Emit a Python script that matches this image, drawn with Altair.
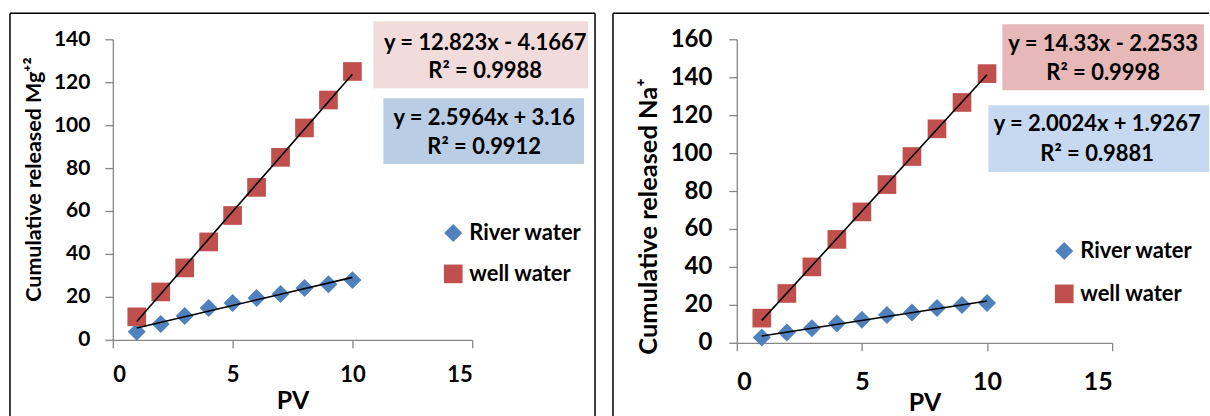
import altair as alt
import pandas as pd

# ---- data ----
pv = [1, 2, 3, 4, 5, 6, 7, 8, 9, 10]
mg_river = [3.7, 7.4, 11.1, 14.8, 17.1, 19.5, 21.3, 24.1, 25.9, 27.8]
mg_well = [10.7, 22.3, 33.5, 45.6, 57.9, 71.0, 85.0, 98.7, 111.7, 125.0]
na_river = [2.8, 5.4, 7.7, 10.2, 12.1, 14.6, 16.0, 18.3, 19.9, 21.0]
na_well = [13.0, 26.0, 40.0, 54.5, 69.0, 83.4, 98.2, 112.8, 126.7, 141.9]
series = ["River water", "well water"]
colors = ["#4F81BD", "#C0504D"]
shapes = ["diamond", "square"]
x_ticks = [0, 5, 10, 15]
mg_eq = ["y = 12.823x - 4.1667", "R² = 0.9988", "y = 2.5964x + 3.16", "R² = 0.9912"]
na_eq = ["y = 14.33x - 2.2533", "R² = 0.9998", "y = 2.0024x + 1.9267", "R² = 0.9881"]

FONT = "Lato"
AXIS_GREY = "#868686"


def make_df(river, well):
    rows = []
    for s, vals in zip(series, [river, well]):
        for x, v in zip(pv, vals):
            rows.append({"pv": x, "value": v, "series": s})
    return pd.DataFrame(rows)


def panel(river, well, ytitle, ymax, w, h, p):
    df = make_df(river, well)
    one = alt.Data(values=[{"a": 1}])
    legend = alt.Legend(
        title=None, orient="none", legendX=p["lx"], legendY=p["ly"],
        labelFont=FONT, labelFontSize=22, labelFontWeight="bold", labelColor="black",
        symbolSize=220, symbolStrokeWidth=0, labelOffset=5, rowPadding=p["rowpad"],
        padding=0, symbolType="square",
    )
    xaxis = alt.Axis(values=x_ticks, title="PV", grid=False,
                     labelFont=FONT, labelFontSize=p["xls"], labelFontWeight="bold",
                     labelColor="black", labelPadding=p["xlp"], labelOverlap=False,
                     titleFont=FONT, titleFontSize=25, titleFontWeight="bold",
                     titleColor="black", titlePadding=p["xtp"],
                     domainColor=AXIS_GREY, tickColor=AXIS_GREY,
                     domainWidth=1.3, tickWidth=1.3, tickSize=8)
    yaxis = alt.Axis(values=list(range(0, ymax + 1, 20)), title=ytitle, grid=False,
                     labelFont=FONT, labelFontSize=p["yls"], labelFontWeight="bold",
                     labelColor="black", labelPadding=p["ylp"], labelOverlap=False,
                     titleFont=FONT, titleFontSize=p["yts"], titleFontWeight="bold",
                     titleColor="black", titlePadding=p["ytp"], titleY=p["ty"],
                     domainColor=AXIS_GREY, tickColor=AXIS_GREY,
                     domainWidth=1.3, tickWidth=1.3, tickSize=8)
    xenc = alt.X("pv:Q", scale=alt.Scale(domain=[0, 15], nice=False), axis=xaxis)
    yenc = alt.Y("value:Q", scale=alt.Scale(domain=[0, ymax], nice=False), axis=yaxis)
    color = alt.Color("series:N", scale=alt.Scale(domain=series, range=colors), legend=legend)
    shape = alt.Shape("series:N", scale=alt.Scale(domain=series, range=shapes), legend=legend)
    size = alt.Size("series:N", scale=alt.Scale(domain=series, range=[324, 350]), legend=None)

    pts = alt.Chart(df).mark_point(filled=True, opacity=1).encode(
        x=xenc, y=yenc, color=color, shape=shape, size=size)
    fit = alt.Chart(df).transform_regression(
        "pv", "value", groupby=["series"]).mark_line(color="black", strokeWidth=1.6).encode(
        x=xenc, y=yenc, detail="series:N")

    layers = []
    # frame
    fx1, fx2, fy1, fy2 = p["frame"]
    layers.append(alt.Chart(one).mark_rule(color="black", strokeWidth=1.5).encode(
        x=alt.value(fx1), x2=alt.value(fx2), y=alt.value(fy1)))
    layers.append(alt.Chart(one).mark_rule(color="black", strokeWidth=1.5).encode(
        x=alt.value(fx1), y=alt.value(fy1), y2=alt.value(fy2)))
    if p["right_side"]:
        layers.append(alt.Chart(one).mark_rule(color="black", strokeWidth=1.5).encode(
            x=alt.value(fx2), y=alt.value(fy1), y2=alt.value(fy2)))
    # equation boxes
    for (bx1, bx2, by1, by2, fill, cx, l1y, l2y, t1, t2) in p["boxes"]:
        layers.append(alt.Chart(one).mark_rect(fill=fill).encode(
            x=alt.value(bx1), x2=alt.value(bx2), y=alt.value(by1), y2=alt.value(by2)))
        for ty, tt in [(l1y, t1), (l2y, t2)]:
            layers.append(alt.Chart(one).mark_text(
                font=FONT, fontSize=22, fontWeight="bold", color="black",
                align="center", baseline="middle").encode(
                x=alt.value(cx), y=alt.value(ty), text=alt.value(tt)))
    layers += [pts, fit]
    return alt.layer(*layers).properties(width=w, height=h)


# plot origins: left (112, 38), right (737, 38)
left = panel(mg_river, mg_well, "Cumulative released Mg⁺²", 140, 360, 301, {
    "lx": 330, "ly": 183, "rowpad": 19,
    "xls": 22, "xlp": 17, "xtp": 3,
    "yls": 21, "ylp": 15, "yts": 21.5, "ytp": 8, "ty": 140,
    "frame": (-103, 483, -26, 378), "right_side": True,
    "boxes": [
        (261, 476, -18, 49, "#F2DCDB", 373, 4, 32, mg_eq[0], mg_eq[1]),
        (271, 472, 59, 125, "#B9CDE5", 372, 79, 108, mg_eq[2], mg_eq[3]),
    ],
})
right = panel(na_river, na_well, "Cumulative released Na⁺", 160, 376, 304, {
    "lx": 317, "ly": 201, "rowpad": 21,
    "xls": 25, "xlp": 19, "xtp": -4,
    "yls": 24, "ylp": 17, "yts": 25.5, "ytp": 9, "ty": 177,
    "frame": (-124, 473, -26, 378), "right_side": False,
    "boxes": [
        (266, 468, -15, 51, "#E6B9B8", 367, 5, 34, na_eq[0], na_eq[1]),
        (252, 473, 66, 133, "#C6D9F1", 361, 85, 115, na_eq[2], na_eq[3]),
    ],
})

chart = alt.hconcat(left, right, spacing=265, bounds="flush").properties(
    padding={"left": 9, "top": 12, "right": 0, "bottom": 0},
    background="white",
).configure_view(stroke=None).configure_axis(labelOverlap=False).resolve_scale(
    color="independent", shape="independent", size="independent")

chart.save("out.html", embed_options={"renderer": "svg", "actions": False})
